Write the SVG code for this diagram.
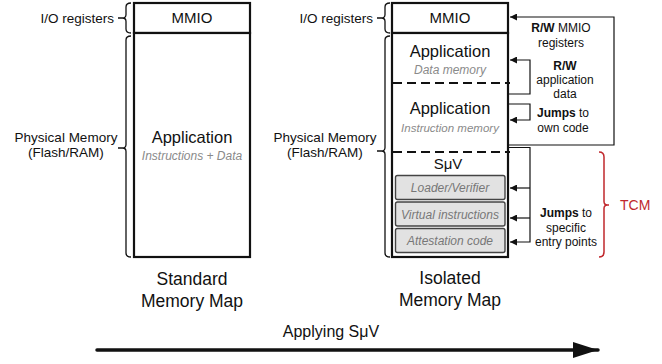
<svg xmlns="http://www.w3.org/2000/svg" width="662" height="364" viewBox="0 0 662 364">
<style>
  text { font-family: "Liberation Sans", Arial, sans-serif; fill: #111; }
  .box { fill: #fff; stroke: #111; stroke-width: 2.2; }
  .dash { stroke: #111; stroke-width: 2.2; stroke-dasharray: 9 5; fill: none; }
  .sub { fill: #e2e2e2; stroke: #444; stroke-width: 1.4; }
  .lbl { font-size: 13.5px; }
  .big { font-size: 16.5px; text-anchor: middle; }
  .mmio { font-size: 15px; text-anchor: middle; }
  .it { font-size: 12px; font-style: italic; fill: #8a8a8a; text-anchor: middle; }
  .ann { font-size: 12px; text-anchor: middle; }
  .title { font-size: 17.5px; text-anchor: middle; }
  .brk { fill: none; stroke: #111; stroke-width: 1.3; }
  .con { fill: none; stroke: #111; stroke-width: 1.2; }
  b, .b { font-weight: bold; }
</style>
<defs>
  <marker id="ah" viewBox="0 0 10 10" refX="10" refY="5" markerWidth="7" markerHeight="7" markerUnits="userSpaceOnUse" orient="auto">
    <path d="M0,0 L10,5 L0,10 z" fill="#111"/>
  </marker>
  <marker id="bigah" viewBox="0 0 10 10" refX="10" refY="5" markerWidth="25" markerHeight="16" markerUnits="userSpaceOnUse" orient="auto" preserveAspectRatio="none">
    <path d="M0,0 L10,5 L0,10 z" fill="#111"/>
  </marker>
</defs>

<!-- Standard memory map -->
<g id="std-mmio">
  <rect class="box" x="134" y="3" width="116" height="30"/>
  <text class="mmio" x="192" y="23">MMIO</text>
</g>
<g id="std-app">
  <rect class="box" x="134" y="33" width="116" height="224"/>
  <text class="big" x="192" y="143">Application</text>
  <text class="it" x="192" y="160">Instructions + Data</text>
</g>
<g id="std-labels">
  <path class="brk" d="M131,3 Q126,3 126,7 L126,14.5 Q126,18 122.5,18 L118,18 M122.5,18 Q126,18 126,21.5 L126,29 Q126,33 131,33"/>
  <text class="lbl" x="114" y="23" text-anchor="end">I/O registers</text>
  <path class="brk" d="M131,36 Q126,36 126,40 L126,144.5 Q126,148 122.5,148 L118,148 M122.5,148 Q126,148 126,151.5 L126,253 Q126,257 131,257"/>
  <text class="lbl" x="66" y="142" text-anchor="middle">Physical Memory</text>
  <text class="lbl" x="66" y="157" text-anchor="middle">(Flash/RAM)</text>
  <text class="title" x="192" y="285">Standard</text>
  <text class="title" x="192" y="307">Memory Map</text>
</g>

<!-- Isolated memory map -->
<g id="iso-mmio">
  <rect class="box" x="392" y="3" width="116" height="30"/>
  <text class="mmio" x="450" y="23">MMIO</text>
</g>
<g id="iso-frame">
  <rect class="box" x="392" y="33" width="116" height="224"/>
  <line class="dash" x1="393" y1="83" x2="510" y2="83"/>
  <line class="dash" x1="393" y1="152" x2="510" y2="152"/>
</g>
<g id="iso-data">
  <text class="big" x="450" y="57">Application</text>
  <text class="it" x="450" y="74">Data memory</text>
</g>
<g id="iso-instr">
  <text class="big" x="450" y="114">Application</text>
  <text class="it" x="450" y="132" style="font-size:11.5px">Instruction memory</text>
</g>
<g id="iso-suv">
  <text class="mmio" x="448" y="169">SμV</text>
</g>
<g id="loader">
  <rect class="sub" x="395.5" y="175.5" width="109.5" height="24" rx="2"/>
  <text class="it" x="450" y="192" style="fill:#777">Loader/Verifier</text>
</g>
<g id="virtual">
  <rect class="sub" x="395.5" y="202" width="109.5" height="24" rx="2"/>
  <text class="it" x="450" y="218.5" style="fill:#777">Virtual instructions</text>
</g>
<g id="attestation">
  <rect class="sub" x="395.5" y="228.5" width="109.5" height="24" rx="2"/>
  <text class="it" x="450" y="245" style="fill:#777">Attestation code</text>
</g>
<g id="iso-labels">
  <path class="brk" d="M390,3 Q385,3 385,7 L385,14.5 Q385,18 381.5,18 L377,18 M381.5,18 Q385,18 385,21.5 L385,29 Q385,33 390,33"/>
  <text class="lbl" x="373" y="23" text-anchor="end">I/O registers</text>
  <path class="brk" d="M390,36 Q385,36 385,40 L385,147.5 Q385,151 381.5,151 L377,151 M381.5,151 Q385,151 385,154.5 L385,253 Q385,257 390,257"/>
  <text class="lbl" x="325" y="142" text-anchor="middle">Physical Memory</text>
  <text class="lbl" x="325" y="157" text-anchor="middle">(Flash/RAM)</text>
  <text class="title" x="450" y="284">Isolated</text>
  <text class="title" x="450" y="306">Memory Map</text>
</g>

<!-- TCM bracket -->
<g id="tcm">
  <path d="M599,152 Q604,152 604,157 L604,201.5 Q604,205 607.5,205 L609,205 M607.5,205 Q604,205 604,208.5 L604,252 Q604,257 599,257" fill="none" stroke="#c0282d" stroke-width="1.5"/>
  <text x="620" y="210" style="font-size:14px; fill:#c0282d">TCM</text>
</g>

<!-- Connectors -->
<g id="connectors">
  <path class="con" d="M509,145 L614,145 L614,17 L510,17" marker-end="url(#ah)"/>
  <path class="con" d="M509,94 L530,94 L530,60 L510,60" marker-end="url(#ah)"/>
  <path class="con" d="M509,104 L530,104 L530,120 L510,120" marker-end="url(#ah)"/>
  <path class="con" d="M509,147.5 L530,147.5 L530,242 L510,242" marker-end="url(#ah)"/>
  <path class="con" d="M530,188 L510,188" marker-end="url(#ah)"/>
  <path class="con" d="M530,218 L510,218" marker-end="url(#ah)"/>
  <path d="M97,350 L598,350" fill="none" stroke="#111" stroke-width="3.5" stroke-linecap="round" marker-end="url(#bigah)"/>
</g>

<!-- Connector labels -->
<g id="connector-labels">
  <text class="ann" x="561" y="32"><tspan class="b">R/W</tspan> MMIO</text>
  <text class="ann" x="561" y="47">registers</text>
  <text class="ann b" x="565" y="70">R/W</text>
  <text class="ann" x="565" y="84">application</text>
  <text class="ann" x="565" y="98">data</text>
  <text class="ann" x="563" y="117"><tspan class="b">Jumps</tspan> to</text>
  <text class="ann" x="563" y="132">own code</text>
  <text class="ann" x="566" y="217"><tspan class="b">Jumps</tspan> to</text>
  <text class="ann" x="566" y="232">specific</text>
  <text class="ann" x="566" y="246">entry points</text>
  <text x="331" y="337" style="font-size:16px" text-anchor="middle">Applying SμV</text>
</g>
</svg>
